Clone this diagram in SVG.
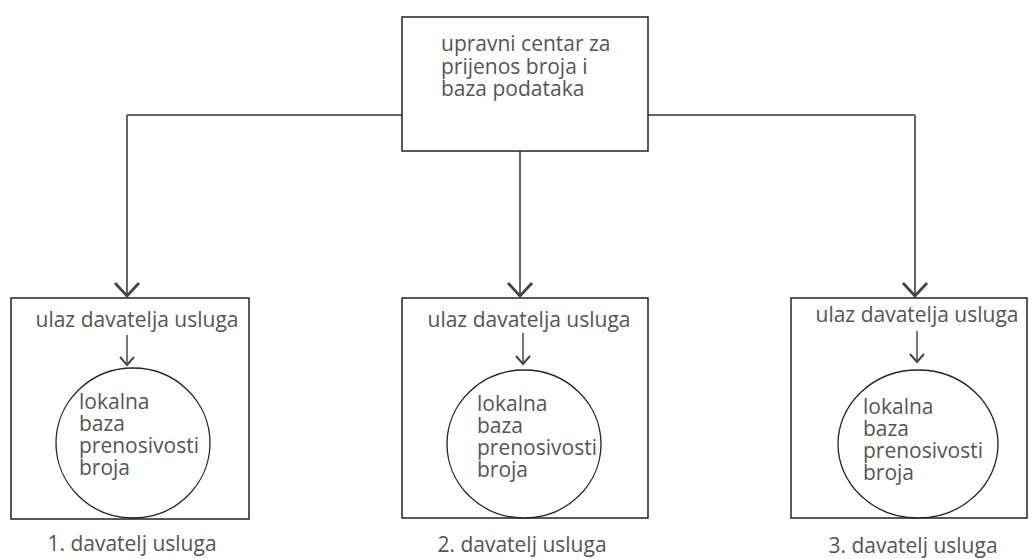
<svg xmlns="http://www.w3.org/2000/svg" width="1029" height="559" viewBox="0 0 1029 559">
<defs>
<style>
text{font-family:"Open Sans","Noto Sans","DejaVu Sans",sans-serif;font-size:21px;fill:#555}
.box{fill:#fff;stroke:#222;stroke-width:1.5}
.circ{fill:#fff;stroke:#222;stroke-width:1.3}
.conn{fill:none;stroke:#333;stroke-width:1.5}
.big{fill:none;stroke:#666;stroke-width:2}
.head{fill:none;stroke:#444;stroke-width:2.8;stroke-linejoin:miter}
.small{fill:none;stroke:#777;stroke-width:2}
.shead{fill:none;stroke:#444;stroke-width:2}
.mid{text-anchor:middle}
</style>
</defs>
<g id="connectors">
<path class="conn" d="M127 115 H402 M648 115 H915"/>
<path class="big" d="M127 115 V296 M520 151 V296 M915 115 V296"/>
<path class="head" d="M115 283 L127 296 L139 283 M508 283 L520 296 L532 283 M903 283 L915 296 L927 283"/>
</g>
<g id="center">
<rect class="box" x="402" y="17" width="246" height="134"/>
<text x="441" y="51">upravni centar za</text>
<text x="441" y="73.5">prijenos broja i</text>
<text x="441" y="96">baza podataka</text>
</g>
<g id="provider1">
<rect class="box" x="11" y="298" width="238" height="221"/>
<text class="mid" x="137" y="327">ulaz davatelja usluga</text>
<path class="small" d="M127 335 V365"/>
<path class="shead" d="M120 357 L127 365 L134 357"/>
<ellipse class="circ" cx="133" cy="443" rx="77" ry="75"/>
<text x="79" y="409">lokalna</text>
<text x="79" y="431">baza</text>
<text x="79" y="453">prenosivosti</text>
<text x="79" y="475">broja</text>
<text class="mid" x="132" y="551">1. davatelj usluga</text>
</g>
<g id="provider2">
<rect class="box" x="402" y="298" width="246" height="220"/>
<text class="mid" x="529" y="327">ulaz davatelja usluga</text>
<path class="small" d="M523 333 V364"/>
<path class="shead" d="M516 356 L523 364 L530 356"/>
<ellipse class="circ" cx="524" cy="444" rx="77" ry="74"/>
<text x="477" y="411">lokalna</text>
<text x="477" y="433">baza</text>
<text x="477" y="455">prenosivosti</text>
<text x="477" y="477">broja</text>
<text class="mid" x="522" y="552">2. davatelj usluga</text>
</g>
<g id="provider3">
<rect class="box" x="791" y="298" width="236" height="220"/>
<text class="mid" x="917" y="322">ulaz davatelja usluga</text>
<path class="small" d="M917 331 V362"/>
<path class="shead" d="M910 354 L917 362 L924 354"/>
<ellipse class="circ" cx="918" cy="444" rx="80" ry="74"/>
<text x="863" y="414">lokalna</text>
<text x="863" y="436">baza</text>
<text x="863" y="458">prenosivosti</text>
<text x="863" y="480">broja</text>
<text class="mid" x="913" y="553">3. davatelj usluga</text>
</g>
</svg>
